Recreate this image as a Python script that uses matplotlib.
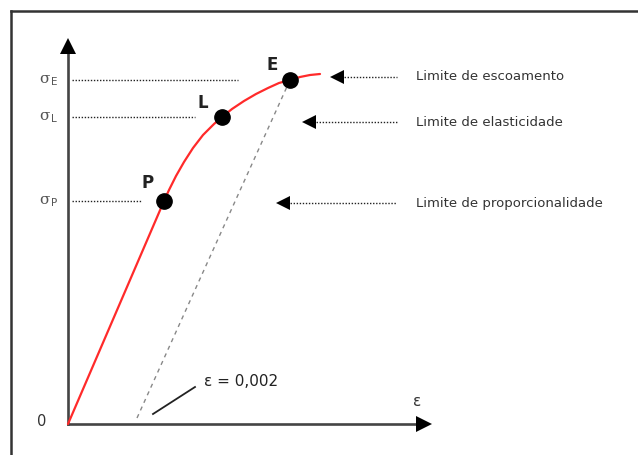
import matplotlib
matplotlib.use("Agg")
import matplotlib.pyplot as plt

# Schematic stress-strain curve, arbitrary units (origin at 0, 0)
CURVE_STRAIN = [0, 96, 101, 108, 116, 125, 135, 146, 154, 164, 176, 188, 200, 211, 222, 232, 242, 252]
CURVE_STRESS = [0, 223, 234, 248, 262, 276, 289, 300, 307, 315, 323, 330, 336, 341, 344, 347, 349, 350]

POINT_NAMES = ["P", "L", "E"]
POINT_STRAIN = [96, 154, 222]
POINT_STRESS = [223, 307, 344]

OFFSET_STRAIN = 69  # the 0,002 offset line starts here
OFFSET_LABEL = "ε = 0,002"

SIGMA_SUBS = ["P", "L", "E"]
LIMIT_LABELS = ["Limite de proporcionalidade", "Limite de elasticidade", "Limite de escoamento"]
LIMIT_ARROW_Y = [221, 302, 347]
LIMIT_ARROW_TIP = [209, 235, 263]

fig = plt.figure(figsize=(6.38, 4.55), dpi=100)
ax = fig.add_axes([0, 0, 1, 1])
ax.set_xlim(-68, 570)
ax.set_ylim(-31, 424)
ax.axis("off")

# frame (cut at right/bottom edge like the original)
ax.plot([-57, -57], [-31, 413], color="#333333", lw=1.8, solid_capstyle="projecting")
ax.plot([-57, 570], [413, 413], color="#333333", lw=1.8, solid_capstyle="projecting")

# axes with arrowheads
axis_col = "#444444"
ax.plot([0, 0], [0, 374], color=axis_col, lw=1.9)
ax.plot([0, 352], [0, 0], color=axis_col, lw=1.9)
ax.plot([0], [378], marker="^", ms=12, color="black", mew=0)
ax.plot([356], [0], marker=">", ms=12, color="black", mew=0)
ax.text(-26, 3, "0", fontsize=10.5, color="#333333", ha="center", va="center")
ax.text(349, 22, "ε", fontsize=11, color="#333333", ha="center", va="center")

# horizontal dotted guides from sigma labels to points
guide_end = [74, 127, 170]
for sub, s, xe in zip(SIGMA_SUBS, POINT_STRESS, guide_end):
    ax.plot([4, xe], [s, s], color="#222222", lw=1.0, ls=(0, (1, 1.2)))
    ax.text(-18, s + 1, "σ", fontsize=11, color="#555555", ha="right", va="center",
            family="DejaVu Serif")
    ax.text(-17, s - 2, sub, fontsize=7.5, color="#555555", ha="left", va="center")

# offset line parallel to elastic part
ax.plot([OFFSET_STRAIN, POINT_STRAIN[2]], [6, POINT_STRESS[2]],
        color="#888888", lw=1.0, ls=(0, (3, 3)))
ax.plot([85, 127], [10, 37], color="#222222", lw=1.3)
ax.text(136, 42, OFFSET_LABEL, fontsize=11, color="#222222", ha="left", va="center")

# stress-strain curve
ax.plot(CURVE_STRAIN, CURVE_STRESS, color="#ff2a2a", lw=1.6,
        solid_capstyle="round", solid_joinstyle="round")
ax.plot(POINT_STRAIN, POINT_STRESS, "o", ms=11, color="black", zorder=5)
name_offsets = [(-16, 18), (-19, 14), (-18, 15)]
for name, x, y, (dx, dy) in zip(POINT_NAMES, POINT_STRAIN, POINT_STRESS, name_offsets):
    ax.text(x + dx, y + dy, name, fontsize=12, color="#222222", ha="center", va="center",
            fontweight="semibold")

# limit arrows and labels on the right
for lab, y, tip in zip(LIMIT_LABELS, LIMIT_ARROW_Y, LIMIT_ARROW_TIP):
    ax.plot([tip + 10, 329], [y, y], color="#222222", lw=1.0, ls=(0, (1, 1.2)))
    ax.plot([tip + 6], [y], marker="<", ms=10, color="black", mew=0)
    ax.text(348, y, lab, fontsize=9.5, color="#333333", ha="left", va="center")

fig.savefig("out.png", dpi=100)
